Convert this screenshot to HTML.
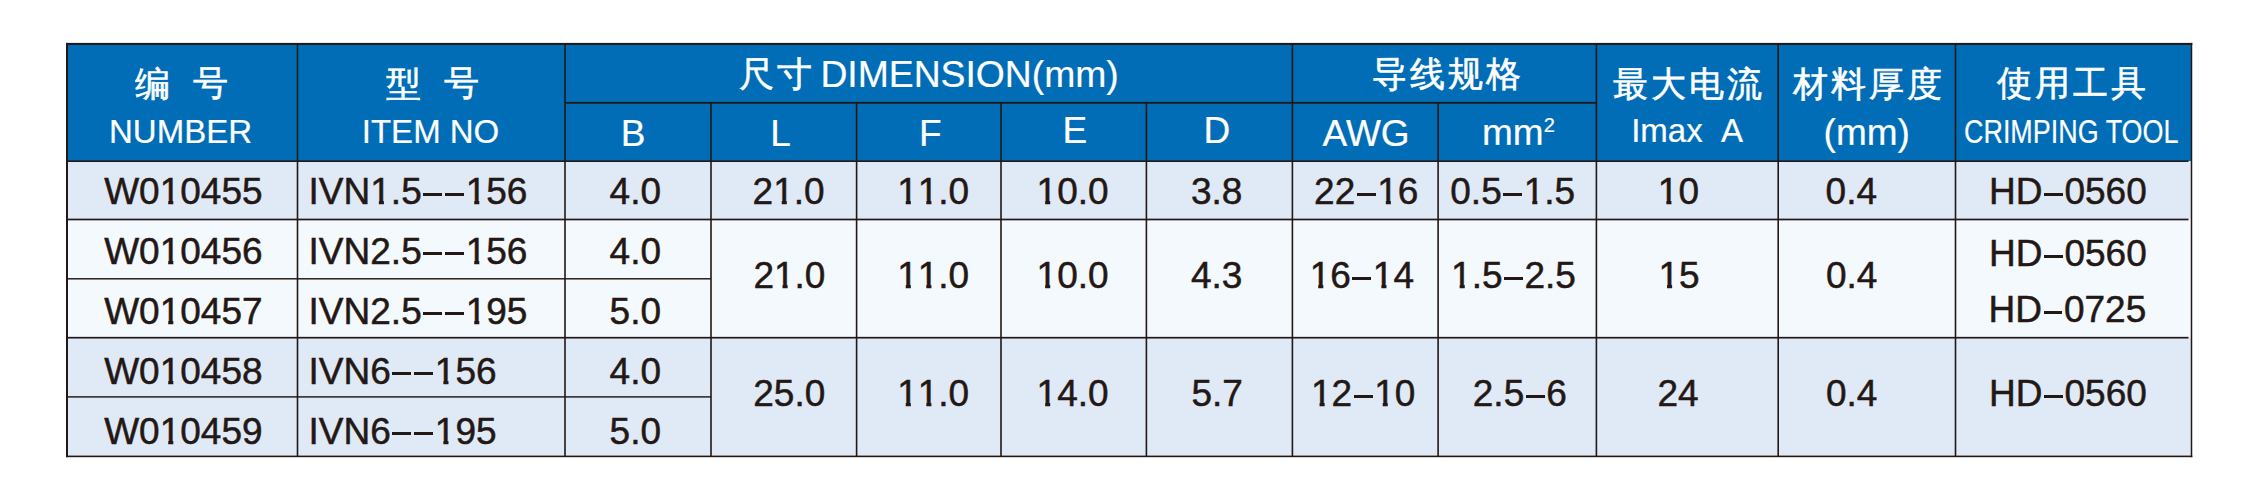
<!DOCTYPE html>
<html><head><meta charset="utf-8"><style>
html,body{margin:0;padding:0;background:#fff;width:2250px;height:489px;overflow:hidden}
body{position:relative}
.t{position:absolute;-webkit-text-stroke:0.5px currentColor;font-family:"Liberation Sans",sans-serif;line-height:1;white-space:nowrap}
.one{display:inline-block;clip-path:polygon(0 0,100% 0,100% 0.75em,0.368em 0.75em,0.368em 100%,0.232em 100%,0.232em 0.75em,0 0.75em)}
.d{display:inline-block;width:18.8px;height:3px;background:currentColor;margin:0 1.6px 8.2px 1.6px}
</style></head><body>
<svg width="2250" height="489" style="position:absolute;left:0;top:0"><rect x="67.00" y="43.90" width="2124.50" height="117.30" fill="#006db6"/><rect x="67.00" y="161.20" width="2124.50" height="58.30" fill="#dfeaf6"/><rect x="67.00" y="219.50" width="2124.50" height="118.20" fill="#f4f9fd"/><rect x="67.00" y="337.70" width="2124.50" height="118.70" fill="#dfeaf6"/><rect x="66.00" y="42.90" width="2126.30" height="2.00" fill="#231815"/><rect x="66.00" y="455.60" width="2126.30" height="1.60" fill="#231815"/><rect x="66.00" y="42.90" width="2.00" height="414.30" fill="#231815"/><rect x="2190.75" y="42.90" width="1.50" height="414.30" fill="#231815"/><rect x="296.70" y="43.90" width="1.60" height="412.50" fill="#231815"/><rect x="564.20" y="43.90" width="1.60" height="412.50" fill="#231815"/><rect x="1291.60" y="43.90" width="1.60" height="412.50" fill="#231815"/><rect x="1595.60" y="43.90" width="1.60" height="412.50" fill="#231815"/><rect x="1777.40" y="43.90" width="1.60" height="412.50" fill="#231815"/><rect x="1954.70" y="43.90" width="1.60" height="412.50" fill="#231815"/><rect x="710.20" y="102.80" width="1.60" height="353.60" fill="#231815"/><rect x="855.80" y="102.80" width="1.60" height="353.60" fill="#231815"/><rect x="1000.20" y="102.80" width="1.60" height="353.60" fill="#231815"/><rect x="1145.60" y="102.80" width="1.60" height="353.60" fill="#231815"/><rect x="1437.30" y="102.80" width="1.60" height="353.60" fill="#231815"/><rect x="565.00" y="101.90" width="1031.40" height="1.80" fill="#231815"/><rect x="67.00" y="160.40" width="2121.50" height="1.60" fill="#231815"/><rect x="67.00" y="218.65" width="2121.50" height="1.70" fill="#231815"/><rect x="67.00" y="336.85" width="2121.50" height="1.70" fill="#231815"/><rect x="67.00" y="278.07" width="644.00" height="1.45" fill="#231815"/><rect x="67.00" y="396.17" width="644.00" height="1.45" fill="#231815"/></svg>
<div id="h_bian" class="t" style="left:134.50px;top:67.25px;font-size:34.5px;color:#ffffff;letter-spacing:3px;-webkit-text-stroke:0.6px currentColor;">编</div>
<div id="h_hao1" class="t" style="left:192.50px;top:66.25px;font-size:34.5px;color:#ffffff;letter-spacing:3px;-webkit-text-stroke:0.6px currentColor;">号</div>
<div id="h_number" class="t" style="left:109.00px;top:115.07px;font-size:33px;color:#ffffff;-webkit-text-stroke:0.2px currentColor;">NUMBER</div>
<div id="h_xing" class="t" style="left:385.50px;top:67.25px;font-size:34.5px;color:#ffffff;letter-spacing:3px;-webkit-text-stroke:0.6px currentColor;">型</div>
<div id="h_hao2" class="t" style="left:443.70px;top:66.25px;font-size:34.5px;color:#ffffff;letter-spacing:3px;-webkit-text-stroke:0.6px currentColor;">号</div>
<div id="h_itemno" class="t" style="left:361.80px;top:115.27px;font-size:33px;color:#ffffff;-webkit-text-stroke:0.2px currentColor;">ITEM NO</div>
<div id="h_chicun" class="t" style="left:739.00px;top:57.05px;font-size:34.5px;color:#ffffff;letter-spacing:3px;-webkit-text-stroke:0.6px currentColor;">尺寸</div>
<div id="h_dim" class="t" style="left:820.40px;top:56.35px;font-size:37.3px;color:#ffffff;-webkit-text-stroke:0.2px currentColor;">DIMENSION(mm)</div>
<div id="h_B" class="t" style="left:620.80px;top:114.68px;font-size:37px;color:#ffffff;-webkit-text-stroke:0.2px currentColor;">B</div>
<div id="h_L" class="t" style="left:770.20px;top:114.68px;font-size:37px;color:#ffffff;-webkit-text-stroke:0.2px currentColor;">L</div>
<div id="h_F" class="t" style="left:919.00px;top:114.68px;font-size:37px;color:#ffffff;-webkit-text-stroke:0.2px currentColor;">F</div>
<div id="h_E" class="t" style="left:1062.40px;top:112.48px;font-size:37px;color:#ffffff;-webkit-text-stroke:0.2px currentColor;">E</div>
<div id="h_D" class="t" style="left:1203.50px;top:111.68px;font-size:37px;color:#ffffff;-webkit-text-stroke:0.2px currentColor;">D</div>
<div id="h_daoxian" class="t" style="left:1371.50px;top:57.25px;font-size:34.5px;color:#ffffff;letter-spacing:3px;-webkit-text-stroke:0.6px currentColor;">导线规格</div>
<div id="h_awg" class="t" style="left:1322.60px;top:114.88px;font-size:37px;color:#ffffff;-webkit-text-stroke:0.2px currentColor;">AWG</div>
<div id="h_mm2" class="t" style="left:1482.00px;top:114.48px;font-size:37px;color:#ffffff;-webkit-text-stroke:0.2px currentColor;">mm</div>
<div id="h_sup2" class="t" style="left:1543.80px;top:115.20px;font-size:20px;color:#ffffff;-webkit-text-stroke:0.2px currentColor;">2</div>
<div id="h_zuida" class="t" style="left:1612.90px;top:66.75px;font-size:34.5px;color:#ffffff;letter-spacing:3px;-webkit-text-stroke:0.6px currentColor;">最大电流</div>
<div id="h_imax" class="t" style="left:1631.20px;top:114.47px;font-size:33px;color:#ffffff;-webkit-text-stroke:0.2px currentColor;">Imax&nbsp;&nbsp;A</div>
<div id="h_cailiao" class="t" style="left:1792.80px;top:67.25px;font-size:34.5px;color:#ffffff;letter-spacing:3px;-webkit-text-stroke:0.6px currentColor;">材料厚度</div>
<div id="h_mm" class="t" style="left:1823.60px;top:113.65px;font-size:37px;color:#ffffff;-webkit-text-stroke:0.2px currentColor;">(mm)</div>
<div id="h_shiyong" class="t" style="left:1997.00px;top:66.25px;font-size:34.5px;color:#ffffff;letter-spacing:3px;-webkit-text-stroke:0.6px currentColor;">使用工具</div>
<div id="h_crimp" class="t" style="left:1963.80px;top:114.07px;font-size:34px;color:#ffffff;-webkit-text-stroke:0.2px currentColor;transform:scaleX(0.792);transform-origin:0 0;">CRIMPING TOOL</div>
<div id="b_num0" class="t" style="left:104.20px;top:172.78px;font-size:37px;color:#231815;">W0<span class="one">1</span>0455</div>
<div id="b_item0" class="t" style="left:308.60px;top:172.78px;font-size:37px;color:#231815;">IVN<span class="one">1</span>.5<span class="d"></span><span class="d"></span><span class="one">1</span>56</div>
<div id="b_b0" class="t" style="left:609.60px;top:172.78px;font-size:37px;color:#231815;">4.0</div>
<div id="b_num1" class="t" style="left:104.20px;top:232.68px;font-size:37px;color:#231815;">W0<span class="one">1</span>0456</div>
<div id="b_item1" class="t" style="left:308.60px;top:232.68px;font-size:37px;color:#231815;">IVN2.5<span class="d"></span><span class="d"></span><span class="one">1</span>56</div>
<div id="b_b1" class="t" style="left:609.60px;top:232.68px;font-size:37px;color:#231815;">4.0</div>
<div id="b_num2" class="t" style="left:104.20px;top:292.68px;font-size:37px;color:#231815;">W0<span class="one">1</span>0457</div>
<div id="b_item2" class="t" style="left:308.60px;top:292.68px;font-size:37px;color:#231815;">IVN2.5<span class="d"></span><span class="d"></span><span class="one">1</span>95</div>
<div id="b_b2" class="t" style="left:609.60px;top:292.68px;font-size:37px;color:#231815;">5.0</div>
<div id="b_num3" class="t" style="left:104.20px;top:352.68px;font-size:37px;color:#231815;">W0<span class="one">1</span>0458</div>
<div id="b_item3" class="t" style="left:308.60px;top:352.68px;font-size:37px;color:#231815;">IVN6<span class="d"></span><span class="d"></span><span class="one">1</span>56</div>
<div id="b_b3" class="t" style="left:609.60px;top:352.68px;font-size:37px;color:#231815;">4.0</div>
<div id="b_num4" class="t" style="left:104.20px;top:412.68px;font-size:37px;color:#231815;">W0<span class="one">1</span>0459</div>
<div id="b_item4" class="t" style="left:308.60px;top:412.68px;font-size:37px;color:#231815;">IVN6<span class="d"></span><span class="d"></span><span class="one">1</span>95</div>
<div id="b_b4" class="t" style="left:609.60px;top:412.68px;font-size:37px;color:#231815;">5.0</div>
<div id="g0_0" class="t" style="left:752.60px;top:172.78px;font-size:37px;color:#231815;">2<span class="one">1</span>.0</div>
<div id="g0_1" class="t" style="left:897.20px;top:172.78px;font-size:37px;color:#231815;"><span class="one">1</span><span class="one">1</span>.0</div>
<div id="g0_2" class="t" style="left:1036.60px;top:172.78px;font-size:37px;color:#231815;"><span class="one">1</span>0.0</div>
<div id="g0_3" class="t" style="left:1190.90px;top:172.78px;font-size:37px;color:#231815;">3.8</div>
<div id="g0_4" class="t" style="left:1314.10px;top:172.78px;font-size:37px;color:#231815;">22<span class="d"></span><span class="one">1</span>6</div>
<div id="g0_5" class="t" style="left:1450.30px;top:172.78px;font-size:37px;color:#231815;">0.5<span class="d"></span><span class="one">1</span>.5</div>
<div id="g0_6" class="t" style="left:1657.80px;top:172.78px;font-size:37px;color:#231815;"><span class="one">1</span>0</div>
<div id="g0_7" class="t" style="left:1825.60px;top:172.78px;font-size:37px;color:#231815;">0.4</div>
<div id="g1_0" class="t" style="left:753.40px;top:256.78px;font-size:37px;color:#231815;">2<span class="one">1</span>.0</div>
<div id="g1_1" class="t" style="left:897.20px;top:256.78px;font-size:37px;color:#231815;"><span class="one">1</span><span class="one">1</span>.0</div>
<div id="g1_2" class="t" style="left:1036.60px;top:256.78px;font-size:37px;color:#231815;"><span class="one">1</span>0.0</div>
<div id="g1_3" class="t" style="left:1190.90px;top:256.78px;font-size:37px;color:#231815;">4.3</div>
<div id="g1_4" class="t" style="left:1309.70px;top:256.78px;font-size:37px;color:#231815;"><span class="one">1</span>6<span class="d"></span><span class="one">1</span>4</div>
<div id="g1_5" class="t" style="left:1451.10px;top:256.78px;font-size:37px;color:#231815;"><span class="one">1</span>.5<span class="d"></span>2.5</div>
<div id="g1_6" class="t" style="left:1658.50px;top:256.78px;font-size:37px;color:#231815;"><span class="one">1</span>5</div>
<div id="g1_7" class="t" style="left:1826.00px;top:256.78px;font-size:37px;color:#231815;">0.4</div>
<div id="g2_0" class="t" style="left:753.30px;top:374.78px;font-size:37px;color:#231815;">25.0</div>
<div id="g2_1" class="t" style="left:897.20px;top:374.78px;font-size:37px;color:#231815;"><span class="one">1</span><span class="one">1</span>.0</div>
<div id="g2_2" class="t" style="left:1036.60px;top:374.78px;font-size:37px;color:#231815;"><span class="one">1</span>4.0</div>
<div id="g2_3" class="t" style="left:1191.40px;top:374.78px;font-size:37px;color:#231815;">5.7</div>
<div id="g2_4" class="t" style="left:1311.00px;top:374.78px;font-size:37px;color:#231815;"><span class="one">1</span>2<span class="d"></span><span class="one">1</span>0</div>
<div id="g2_5" class="t" style="left:1472.80px;top:374.78px;font-size:37px;color:#231815;">2.5<span class="d"></span>6</div>
<div id="g2_6" class="t" style="left:1657.50px;top:374.78px;font-size:37px;color:#231815;">24</div>
<div id="g2_7" class="t" style="left:1826.00px;top:374.78px;font-size:37px;color:#231815;">0.4</div>
<div id="hd0" class="t" style="left:1989.00px;top:172.78px;font-size:37px;color:#231815;">HD<span class="d"></span>0560</div>
<div id="hd1" class="t" style="left:1989.00px;top:235.38px;font-size:37px;color:#231815;">HD<span class="d"></span>0560</div>
<div id="hd2" class="t" style="left:1988.50px;top:290.88px;font-size:37px;color:#231815;">HD<span class="d"></span>0725</div>
<div id="hd3" class="t" style="left:1989.10px;top:375.38px;font-size:37px;color:#231815;">HD<span class="d"></span>0560</div>
</body></html>
